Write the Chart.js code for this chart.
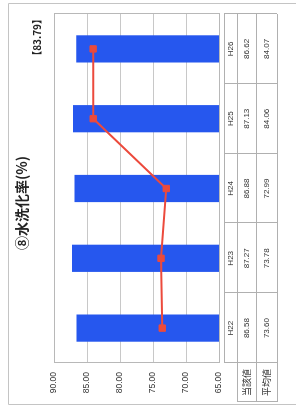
<!DOCTYPE html>
<html>
<head>
<meta charset="utf-8">
<script src="https://cdn.jsdelivr.net/npm/chart.js@4"></script>
<style>
html,body{margin:0;padding:0;background:#fff;overflow:hidden}
/* chart is drawn landscape, then turned a quarter turn like the scan */
#wrap{position:absolute;left:0;top:0;width:411px;height:296px;transform-origin:0 0;transform:translate(0,411px) rotate(-90deg)}
</style>
</head>
<body>
<div id="wrap"><canvas id="chart" width="411" height="296"></canvas></div>
<script>
const TITLE = '⑧水洗化率(%)';
const TARGET = '【83.79】';
const categories = ['H22','H23','H24','H25','H26'];
const currentValues = [86.58, 87.27, 86.88, 87.13, 86.62]; // 当該値
const averageValues = [73.60, 73.78, 72.99, 84.06, 84.07]; // 平均値
const rowLabels = ['当該値','平均値'];
const yMin = 65, yMax = 90, yStep = 5;

const JP = '"Noto Sans CJK JP", sans-serif';
const NUM = '"Liberation Sans", Arial, sans-serif';

// frame, title, plot box and the data table below the plot
const tablePlugin = {
  id: 'tablePlugin',
  beforeDraw(chart){
    const c = chart.ctx;
    c.save();
    c.fillStyle = '#fff';
    c.fillRect(0,0,chart.width,chart.height);
    c.strokeStyle = '#c4c4c4';
    c.lineWidth = 1;
    c.beginPath();
    c.moveTo(6.5, 300); c.lineTo(6.5, 8.5); c.lineTo(407.5, 8.5); c.lineTo(407.5, 300);
    c.stroke();
    c.restore();
  },
  afterDraw(chart){
    const c = chart.ctx;
    const a = chart.chartArea;
    const xs = chart.scales.x;
    c.save();
    // title
    c.fillStyle = '#222';
    c.font = 'bold 14px ' + JP;
    c.textAlign = 'center';
    c.textBaseline = 'middle';
    c.fillText(TITLE, 208, 22);
    c.font = 'bold 10px ' + JP;
    c.textAlign = 'right';
    c.fillText(TARGET, 397, 37);

    // plot box
    c.strokeStyle = '#b8b8b8';
    c.lineWidth = 1;
    c.strokeRect(Math.round(a.left)+0.5, Math.round(a.top)+0.5, Math.round(a.right-a.left), Math.round(a.bottom-a.top));

    // table
    const r0 = a.bottom + 5, r1 = a.bottom + 18, r2 = a.bottom + 37, r3 = a.bottom + 58;
    const half = (xs.getPixelForValue(1) - xs.getPixelForValue(0)) / 2;
    const hx = 9;
    c.strokeStyle = '#b0b0b0';
    c.beginPath();
    c.moveTo(a.left, r0+0.5); c.lineTo(a.right, r0+0.5);
    [r1, r2, r3].forEach(r => { c.moveTo(hx, r+0.5); c.lineTo(a.right, r+0.5); });
    c.moveTo(hx+0.5, r1); c.lineTo(hx+0.5, r3);
    for (let i = 0; i <= categories.length; i++) {
      const px = Math.round(xs.getPixelForValue(0) - half + i*2*half) + 0.5;
      c.moveTo(px, r0); c.lineTo(px, r3);
    }
    c.stroke();

    c.fillStyle = '#333';
    c.textAlign = 'center';
    c.font = '9px ' + JP;
    c.fillText(rowLabels[0], (hx + a.left)/2, (r1+r2)/2);
    c.fillText(rowLabels[1], (hx + a.left)/2, (r2+r3)/2);
    c.font = '8px ' + NUM;
    categories.forEach((cat, i) => {
      const cx = xs.getPixelForValue(i);
      c.fillText(cat, cx, (r0+r1)/2);
      c.fillText(currentValues[i].toFixed(2), cx, (r1+r2)/2);
      c.fillText(averageValues[i].toFixed(2), cx, (r2+r3)/2);
    });
    c.restore();
  }
};

new Chart(document.getElementById('chart').getContext('2d'), {
  data: {
    labels: categories,
    datasets: [
      {
        type: 'line',
        label: rowLabels[1],
        data: averageValues,
        borderColor: '#ec4a3c',
        backgroundColor: '#ec4a3c',
        borderWidth: 2,
        pointStyle: 'rect',
        pointRadius: 4.5,
        pointBorderWidth: 1,
        tension: 0,
        order: 0
      },
      {
        type: 'bar',
        label: rowLabels[0],
        data: currentValues,
        backgroundColor: '#2657ee',
        categoryPercentage: 1,
        barPercentage: 0.39,
        order: 1
      }
    ]
  },
  options: {
    responsive: false,
    animation: false,
    events: [],
    layout: { padding: { left: 0, right: 14, top: 54, bottom: 77 } },
    plugins: { legend: { display: false }, tooltip: { enabled: false } },
    scales: {
      x: { display: false, offset: true },
      y: {
        min: yMin, max: yMax,
        border: { display: false },
        grid: { color: '#c8c8c8', drawTicks: false },
        ticks: {
          stepSize: yStep,
          padding: 9,
          color: '#333',
          font: { family: NUM, size: 8.5 },
          callback: v => Number(v).toFixed(2)
        },
        afterFit: s => { s.width = 48; }
      }
    }
  },
  plugins: [tablePlugin]
});
</script>
</body>
</html>
